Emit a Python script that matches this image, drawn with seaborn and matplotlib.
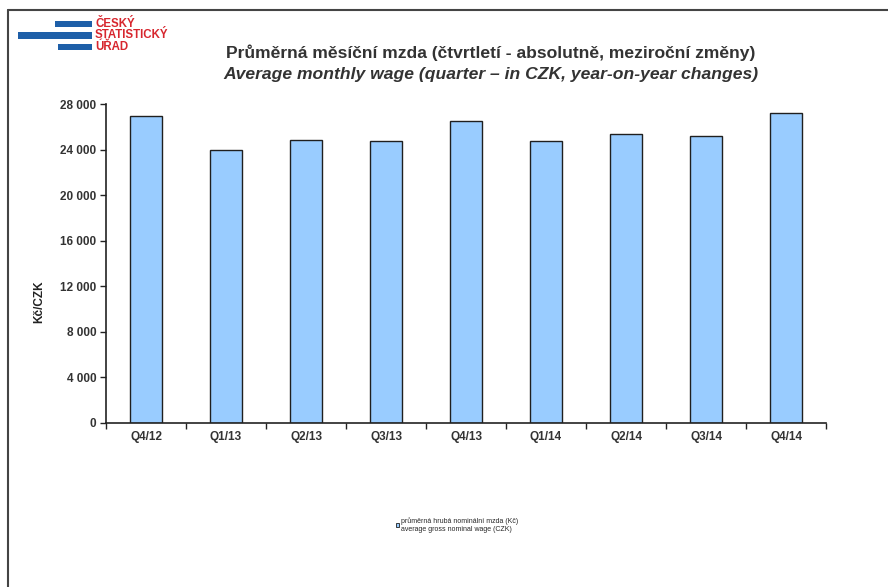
import matplotlib
matplotlib.use("Agg")
import matplotlib.pyplot as plt
from matplotlib.patches import Rectangle, Patch
from matplotlib.lines import Line2D
from matplotlib.ticker import FixedLocator, FuncFormatter
import seaborn as sns
import pandas as pd

# Quarterly average gross monthly wage (CZK)
quarters = ["Q4/12", "Q1/13", "Q2/13", "Q3/13", "Q4/13", "Q1/14", "Q2/14", "Q3/14", "Q4/14"]
wages = [26970, 23930, 24840, 24720, 26510, 24750, 25390, 25220, 27180]
y_ticks = [0, 4000, 8000, 12000, 16000, 20000, 24000, 28000]

df = pd.DataFrame({"quarter": quarters, "wage": wages})

sns.set_theme(style="white")
plt.rcParams["font.family"] = ["Liberation Sans", "DejaVu Sans"]

fig = plt.figure(figsize=(8.88, 5.87), dpi=100)
ax = fig.add_axes([0.1194, 0.2802, 0.8108, 0.5426])

sns.barplot(data=df, x="quarter", y="wage", ax=ax, color="#99ccff",
            width=0.4, edgecolor="#1f1f1f", linewidth=1.0, saturation=1)

ax.set_xlim(-0.5, len(quarters) - 0.5)
ax.set_ylim(0, 28000)
ax.yaxis.set_major_locator(FixedLocator(y_ticks))
ax.yaxis.set_major_formatter(FuncFormatter(lambda v, p: f"{int(v):,}".replace(",", " ")))

# category boundaries carry the x tick marks
ax.xaxis.set_minor_locator(FixedLocator([i - 0.5 for i in range(len(quarters) + 1)]))
ax.tick_params(axis="x", which="major", length=0, pad=6, labelsize=8.5, labelcolor="#333333")
ax.tick_params(axis="x", which="minor", length=4, width=1, color="#222222", direction="out", bottom=True)
ax.tick_params(axis="y", which="major", length=4, width=1, color="#222222", direction="out", left=True,
               pad=3, labelsize=8.5, labelcolor="#333333")
for lbl in ax.get_xticklabels() + ax.get_yticklabels():
    lbl.set_fontweight("bold")

for side in ("top", "right"):
    ax.spines[side].set_visible(False)
for side in ("left", "bottom"):
    ax.spines[side].set_color("#222222")
    ax.spines[side].set_linewidth(1.2)

ax.set_xlabel("")
ax.set_ylabel("Kč/CZK", fontsize=8.5, fontweight="bold", color="#222222")
ax.yaxis.set_label_coords(-0.085, 0.38)

# titles
fig.text(0.553, 0.911, "Průměrná měsíční mzda (čtvrtletí - absolutně, meziroční změny)",
         ha="center", va="center", fontsize=12.6, fontweight="bold", color="#333333")
fig.text(0.553, 0.873, "Average monthly wage (quarter – in CZK, year-on-year changes)",
         ha="center", va="center", fontsize=12.6, fontweight="bold", fontstyle="italic", color="#333333")

# legend
handle = Patch(facecolor="#99ccff", edgecolor="#1f1f1f", linewidth=0.6)
leg = fig.legend([handle], ["průměrná hrubá nominální mzda (Kč)\naverage gross nominal wage (CZK)"],
                 loc="center", bbox_to_anchor=(0.515, 0.105), frameon=False, fontsize=5,
                 handlelength=0.5, handleheight=0.5, handletextpad=0.3)

# page frame (top and left edges)
fig.add_artist(Line2D([8 / 888, 1.0], [1 - 10 / 587, 1 - 10 / 587], transform=fig.transFigure,
                      color="#444444", linewidth=1.5))
fig.add_artist(Line2D([8 / 888, 8 / 888], [0.0, 1 - 10 / 587], transform=fig.transFigure,
                      color="#444444", linewidth=1.5))

# office logo
blue = "#1e5fa8"
for x0, x1, yc in [(55, 92, 24), (18, 92, 35.5), (58, 92, 47)]:
    fig.add_artist(Rectangle((x0 / 888, 1 - (yc + 3) / 587), (x1 - x0) / 888, 6 / 587,
                             transform=fig.transFigure, facecolor=blue, edgecolor="none"))
for txt, yc in [("ČESKÝ", 24), ("STATISTICKÝ", 35.5), ("ÚŘAD", 47)]:
    fig.text(95 / 888, 1 - yc / 587, txt, ha="left", va="center", fontsize=8.3,
             fontweight="bold", color="#d7262e")

fig.savefig("out.png", dpi=100)
